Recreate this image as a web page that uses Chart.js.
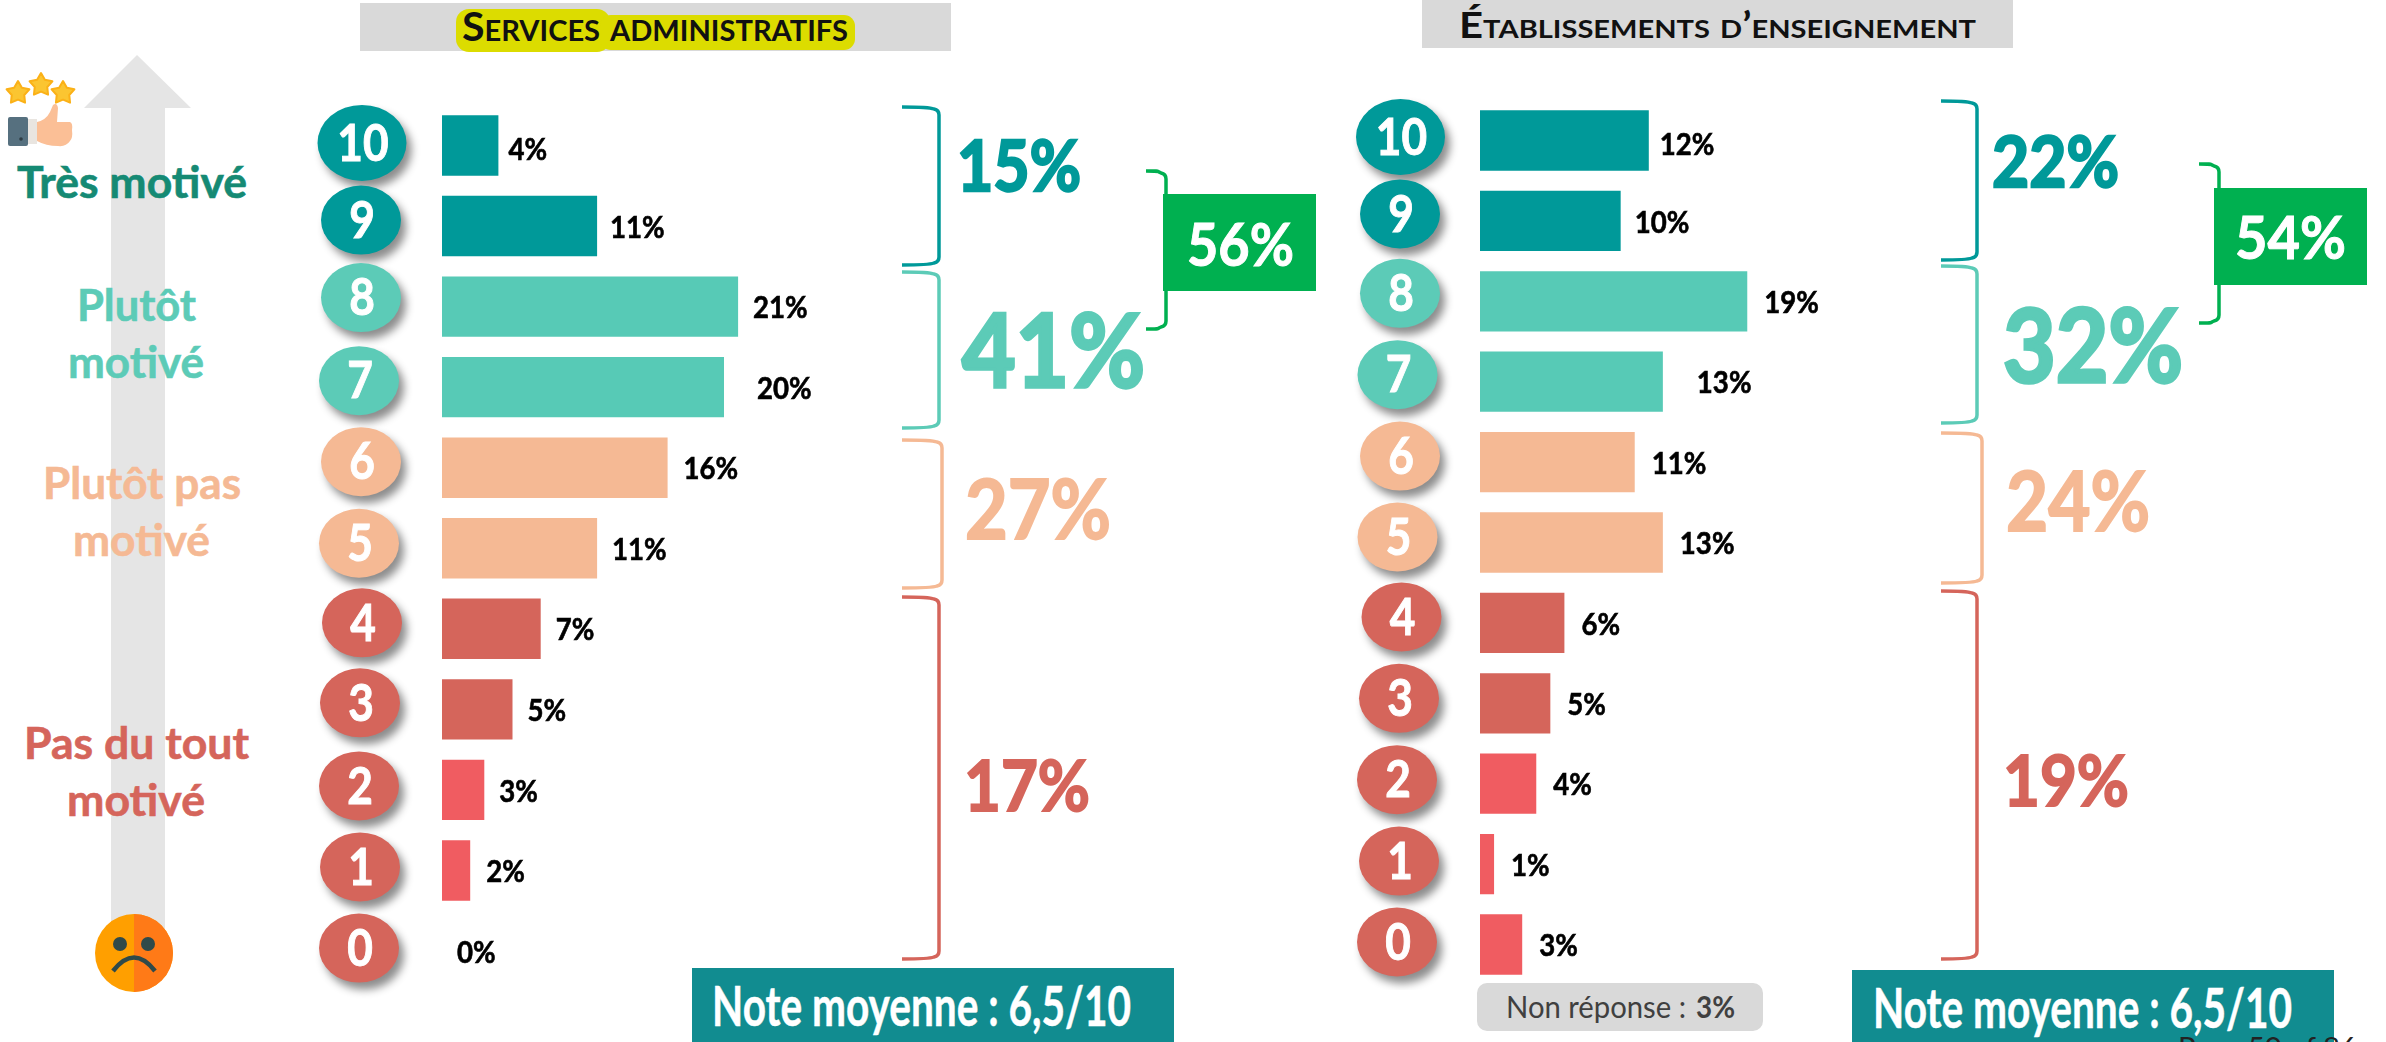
<!DOCTYPE html>
<html lang="fr">
<head>
<meta charset="utf-8">
<title>Motivation</title>
<script src="https://cdn.jsdelivr.net/npm/chart.js@4"></script>
<style>
    html, body { margin: 0; padding: 0; background: #fff; overflow: hidden; width: 2386px; height: 1042px; }
    svg, canvas { position: absolute; top: 0; left: 0; }
    text { font-family: Lato, sans-serif; font-weight: 700; }
</style>
</head>
<body>
<svg id="decor" width="2386" height="1042" viewBox="0 0 2386 1042"></svg>
<canvas id="graphique-services" width="565" height="910" style="left:300px;top:90px"></canvas>
<canvas id="graphique-etablissements" width="564" height="900" style="left:1338px;top:90px"></canvas>
<script>
const notes = ["10", "9", "8", "7", "6", "5", "4", "3", "2", "1", "0"];
const valeursServices = [4, 11, 21, 20, 16, 11, 7, 5, 3, 2, 0];
const valeursEtablissements = [12, 10, 19, 13, 11, 13, 6, 5, 4, 1, 3];

const groupesServices = ["15%", "41%", "27%", "17%"];
const groupesEtablissements = ["22%", "32%", "24%", "19%"];
const totalMotivesServices = "56%";
const totalMotivesEtablissements = "54%";

const titreServices = "Services administratifs";
const titreEtablissements = "Établissements d’enseignement";
const noteMoyenne = "Note moyenne : 6,5/10";

const TEAL = "#009999", MENTHE = "#57cab6", PECHE = "#f5b994", ROUGE = "#d5655b", ROUGE_VIF = "#f05c61";
const VERT = "#00b050", BLEU_NOTE = "#118c90", GRIS = "#d9d9d9";

const couleursBarres = [TEAL, TEAL, MENTHE, MENTHE, PECHE, PECHE, ROUGE, ROUGE, ROUGE_VIF, ROUGE_VIF, ROUGE_VIF];
const couleursPastilles = [TEAL, TEAL, "#5ccbb7", "#5ccbb7", PECHE, PECHE, ROUGE, ROUGE, ROUGE, ROUGE, ROUGE];

// pastilles and labels are hand placed in the slide, not aligned on the bars
const pastillesServices = { dx: [-80, -81, -81, -83, -81, -83, -80, -82, -83, -82, -83], dy: [-2.5, -6, -9, -6.5, -6, -5, -6, -6.5, -4, -3.5, -3] };
const pastillesEtablissements = { dx: [-79.5, -80, -80, -82.5, -80, -82.5, -78.5, -81, -83, -81, -83], dy: [-3.5, -7, -8, -7, -6, -5.5, -6, -5, -4, -3, -2.5] };
const ecartsServices = [10, 13, 15, 33, 16, 15, 15, 15, 15, 16, 15];
const ecartsEtablissements = [11, 14, 17, 34, 17, 17, 17, 17, 17, 17, 17];

// ---- chart ----
function texteSerre(ctx, str, x, y, serrage, epaisseur) {
    ctx.save();
    ctx.translate(x, y);
    ctx.scale(serrage, 1);
    ctx.fillText(str, 0, 0);
    ctx.strokeStyle = ctx.fillStyle;
    ctx.lineWidth = epaisseur;
    ctx.strokeText(str, 0, 0);
    ctx.restore();
}

function pluginBarres(pastilles, ecarts, valeurs) {
    return {
        id: "pastilles",
        afterDatasetsDraw(chart) {
            const ctx = chart.ctx;
            const yScale = chart.scales.y, xScale = chart.scales.x;
            const gauche = chart.chartArea.left;
            ctx.save();
            notes.forEach((note, i) => {
                const yBarre = yScale.getPixelForValue(i);
                const cx = gauche + pastilles.dx[i];
                const cy = yBarre + pastilles.dy[i];
                const rx = i === 0 ? 44.5 : 40;
                const ry = i === 0 ? 38 : 34.5;
                ctx.save();
                ctx.shadowColor = "rgba(0,0,0,0.45)";
                ctx.shadowOffsetX = 5;
                ctx.shadowOffsetY = 7;
                ctx.shadowBlur = 8;
                ctx.fillStyle = couleursPastilles[i];
                ctx.beginPath();
                ctx.ellipse(cx, cy, rx, ry, 0, 0, Math.PI * 2);
                ctx.fill();
                ctx.restore();
                ctx.fillStyle = "#fff";
                ctx.font = "700 52px Lato, sans-serif";
                ctx.textAlign = "center";
                ctx.textBaseline = "middle";
                texteSerre(ctx, note, cx + 1, cy + 1, 0.85, 1);

                ctx.fillStyle = "#000";
                ctx.font = "700 30px Lato, sans-serif";
                ctx.textAlign = "left";
                texteSerre(ctx, valeurs[i] + "%", xScale.getPixelForValue(valeurs[i]) + ecarts[i], yBarre + (i === 0 ? 4.5 : 2), 0.92, 0.6);
            });
            ctx.restore();
        }
    };
}

function creerGraphique(id, valeurs, pastilles, ecarts, marges) {
    new Chart(document.getElementById(id), {
        type: "bar",
        data: {
            labels: notes,
            datasets: [{
                data: valeurs,
                backgroundColor: couleursBarres,
                barPercentage: 0.75,
                categoryPercentage: 1
            }]
        },
        options: {
            indexAxis: "y",
            responsive: false,
            animation: false,
            layout: { padding: marges },
            plugins: { legend: { display: false }, tooltip: { enabled: false } },
            scales: {
                x: { display: false, min: 0, max: 30 },
                y: { display: false }
            }
        },
        plugins: [pluginBarres(pastilles, ecarts, valeurs)]
    });
}

creerGraphique("graphique-services", valeursServices, pastillesServices, ecartsServices, { left: 142, right: 0, top: 15.2, bottom: 8.7 });
creerGraphique("graphique-etablissements", valeursEtablissements, pastillesEtablissements, ecartsEtablissements, { left: 142, right: 0, top: 10.3, bottom: 5.3 });

// ---- slide decoration ----
const decor = document.getElementById("decor");
const NS = "http://www.w3.org/2000/svg";

function forme(nom, attributs) {
    const el = document.createElementNS(NS, nom);
    for (const cle in attributs) el.setAttribute(cle, attributs[cle]);
    decor.appendChild(el);
    return el;
}

function rect(x1, y1, x2, y2, fill, rx) {
    return forme("rect", { x: x1, y: y1, width: x2 - x1, height: y2 - y1, fill: fill, rx: rx || 0 });
}

// text stretched between x1 and x2 like the squeezed text of the slide
function texte(str, x1, x2, base, taille, fill, epaisseur, poids) {
    const el = forme("text", { x: x1, y: base, "font-size": taille, fill: fill, textLength: x2 - x1, lengthAdjust: "spacingAndGlyphs" });
    if (epaisseur) {
        el.setAttribute("stroke", fill);
        el.setAttribute("stroke-width", epaisseur);
    }
    if (poids) el.style.fontWeight = poids;
    el.textContent = str;
    return el;
}

function accolade(x0, xd, y0, y1, couleur) {
    forme("path", {
        d: `M ${x0} ${y0} C ${x0 + 15} ${y0}, ${xd - 10} ${y0}, ${xd - 5} ${y0 + 2} Q ${xd} ${y0 + 3} ${xd} ${y0 + 8} `
            + `L ${xd} ${y1 - 8} Q ${xd} ${y1 - 3} ${xd - 5} ${y1 - 2} C ${xd - 10} ${y1}, ${x0 + 15} ${y1}, ${x0} ${y1}`,
        fill: "none", stroke: couleur, "stroke-width": 3.5
    });
}

function etoile(cx, cy, r) {
    let points = "";
    for (let i = 0; i < 10; i++) {
        const rayon = i % 2 === 0 ? r : r * 0.55;
        const a = -Math.PI / 2 + i * Math.PI / 5;
        points += `${cx + rayon * Math.cos(a)},${cy + rayon * Math.sin(a)} `;
    }
    forme("polygon", { points: points, fill: "#fbc531", stroke: "#fbb117", "stroke-width": 2, "stroke-linejoin": "round" });
}

// vertical arrow
forme("polygon", { points: "137,55 191,108 165,108 165,930 111,930 111,108 84,108", fill: "#e5e5e5" });

// stars and thumb
etoile(18, 93, 12);
etoile(41, 85, 12);
etoile(63, 93, 12);
rect(8, 117, 28, 146, "#56707f", 2);
rect(28, 119, 37, 144, "#e9e5e0");
forme("path", { d: "M 37 122 Q 46 120 50 112 L 53 105 Q 57 102 58 108 L 57 122 L 70 122 Q 73 123 72 130 Q 73 138 70 141 Q 66 147 58 146 Q 46 146 37 141 Z", fill: "#fbbf96" });
forme("circle", { cx: 21, cy: 139, r: 1.8, fill: "#2e3c44" });

// sad face
forme("circle", { cx: 134, cy: 953, r: 39, fill: "#ff9f00" });
forme("path", { d: "M 134 914 A 39 39 0 0 1 134 992 Z", fill: "#ff7a17" });
forme("circle", { cx: 120, cy: 944, r: 7, fill: "#2f4a4a" });
forme("circle", { cx: 148, cy: 944, r: 7, fill: "#2f4a4a" });
forme("path", { d: "M 113 971 Q 134 944 155 971", fill: "none", stroke: "#2f4a4a", "stroke-width": 4.5 });

// titles
rect(360, 3, 951, 51, GRIS);
rect(456, 9, 610, 52, "#dcdc00", 13);
rect(600, 15, 855, 50, "#dcdc00", 11);
texte(titreServices, 462, 848, 41, 41, "#111").style.fontVariant = "small-caps";
rect(1422, 0, 2013, 48, GRIS);
texte(titreEtablissements, 1459, 1976, 38, 36, "#111").style.fontVariant = "small-caps";

// motivation labels
texte("Très motivé", 17, 247, 198, 44, "#158a74", 0.6);
texte("Plutôt", 77, 196, 321, 44, "#5ccbb7", 0.6);
texte("motivé", 68, 204, 378, 44, "#5ccbb7", 0.6);
texte("Plutôt pas", 43, 241, 499, 44, PECHE, 0.6);
texte("motivé", 73, 210, 556, 44, PECHE, 0.6);
texte("Pas du tout", 24, 249, 759, 44, ROUGE, 0.6);
texte("motivé", 67, 205, 816, 44, ROUGE, 0.6);

// groups, services
accolade(902, 939, 107, 265, TEAL);
accolade(902, 939, 272, 428, "#5ccbb7");
accolade(902, 942, 440, 588, PECHE);
accolade(902, 939, 597, 959, ROUGE);
texte(groupesServices[0], 957, 1081, 191, 70, TEAL, 2.5);
texte(groupesServices[1], 962, 1145, 387, 101, "#5ccbb7", 3.5);
texte(groupesServices[2], 965, 1111, 539, 83, PECHE, 2);
texte(groupesServices[3], 964, 1090, 811, 71, ROUGE, 2);
accolade(1146, 1166, 171, 329, VERT);
rect(1163, 194, 1316, 291, VERT);
texte(totalMotivesServices, 1187, 1294, 266, 60, "#fff", 1);

// groups, etablissements
accolade(1941, 1977, 101, 260, TEAL);
accolade(1941, 1977, 266, 423, "#5ccbb7");
accolade(1941, 1982, 433, 583, PECHE);
accolade(1941, 1977, 591, 959, ROUGE);
texte(groupesEtablissements[0], 1992, 2119, 187, 71, TEAL, 2.5);
texte(groupesEtablissements[1], 2003, 2183, 382, 102, "#5ccbb7", 3.5);
texte(groupesEtablissements[2], 2006, 2150, 531, 83, PECHE, 2);
texte(groupesEtablissements[3], 2003, 2129, 806, 71, ROUGE, 2);
accolade(2199, 2219, 164, 323, VERT);
rect(2214, 188, 2367, 285, VERT);
texte(totalMotivesEtablissements, 2235, 2346, 259, 60, "#fff", 1);

// bottom boxes
rect(692, 968, 1174, 1042, BLEU_NOTE);
texte(noteMoyenne, 712, 1131, 1026, 55, "#fff", 0.5);
rect(1852, 970, 2334, 1042, BLEU_NOTE);
texte(noteMoyenne, 1873, 2292, 1028, 55, "#fff", 0.5);
rect(1477, 983, 1763, 1031, GRIS, 10);
texte("Non réponse :", 1506, 1686, 1018, 30, "#404040", 0, 400);
texte("3%", 1696, 1735, 1018, 30, "#404040");
texte("Page 50 of 86", 2178, 2357, 1058, 28, "#222", 0, 400);
</script>
</body>
</html>
